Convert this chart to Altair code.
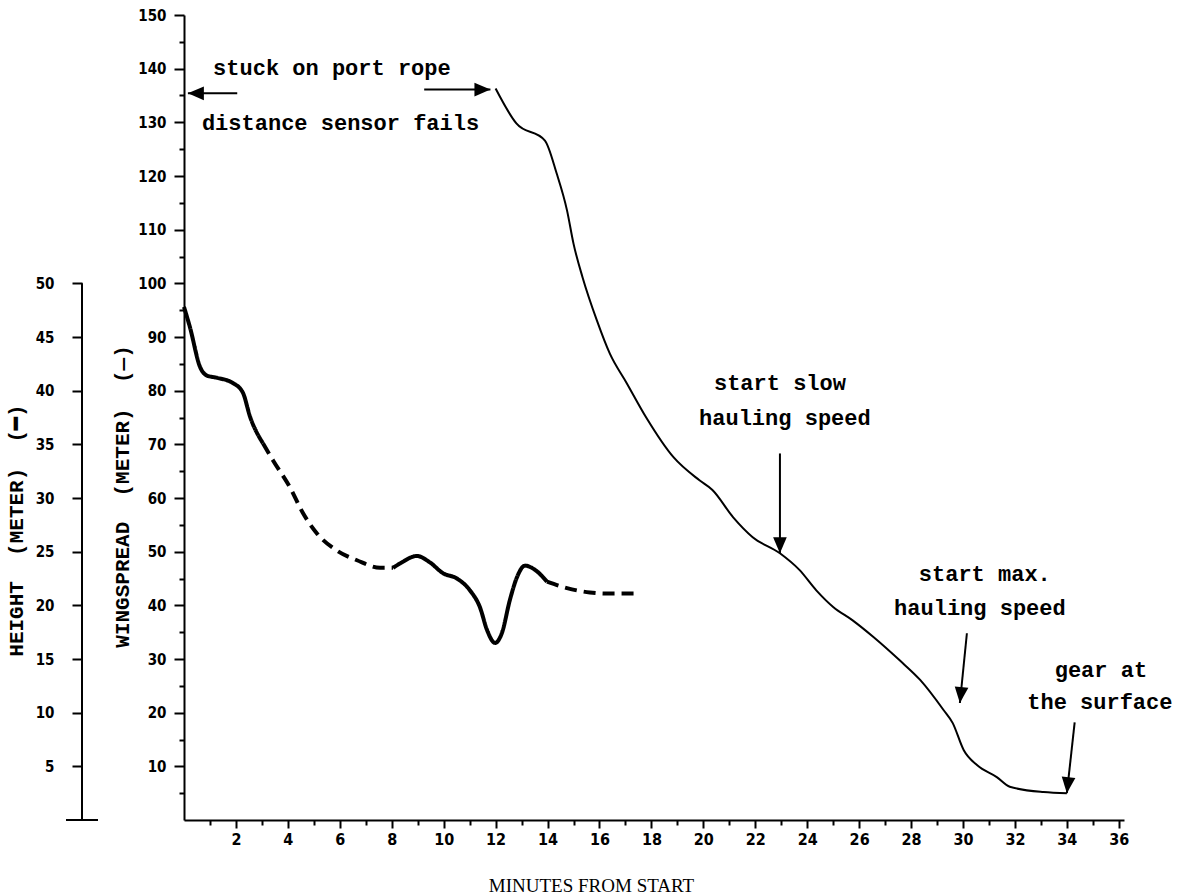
import altair as alt
import pandas as pd

# ---------------- data ----------------
# wingspread (thin line), minutes from start
wing_minutes = [12.0, 12.8, 13.9, 14.35, 14.75, 15.0, 15.35, 15.9, 16.4, 17.05, 17.8,
                18.85, 19.85, 20.35, 21.15, 21.9, 22.95, 23.7, 24.35, 25.0, 25.75,
                26.55, 27.55, 28.35, 29.25, 29.6, 30.03, 30.55, 31.3, 31.8, 33.1, 34.0]
wing_values = [136.3, 129.8, 126.6, 120.5, 113.6, 107.4, 101.1, 93.1, 86.9, 81.4, 75.0,
               67.6, 63.3, 61.5, 56.4, 52.7, 49.7, 46.6, 42.8, 39.7, 37.2,
               34.1, 29.8, 26.1, 20.5, 18.1, 13.0, 10.2, 8.0, 6.2, 5.2, 5.0]

# height (thick line), in four pieces: solid / dashed / solid / dashed
h1_minutes = [0.0, 0.23, 0.62, 0.89, 1.27, 1.89, 2.27, 2.54, 3.04]
h1_values = [47.8, 45.9, 42.2, 41.4, 41.2, 40.7, 39.8, 37.6, 35.1]
h2_minutes = [3.04, 3.43, 4.08, 4.58, 5.12, 5.89, 6.66, 7.55, 8.05]
h2_values = [35.1, 33.5, 31.0, 28.6, 26.7, 25.1, 24.2, 23.5, 23.5]
h3_minutes = [8.05, 8.32, 8.97, 9.47, 9.97, 10.51, 11.01, 11.4, 11.67, 11.98,
              12.24, 12.55, 12.82, 13.13, 13.52, 13.98]
h3_values = [23.5, 23.9, 24.6, 24.0, 23.0, 22.5, 21.4, 19.8, 17.7, 16.5,
             17.4, 20.5, 22.6, 23.7, 23.3, 22.2]
h4_minutes = [13.98, 14.75, 15.63, 16.29, 17.48]
h4_values = [22.2, 21.6, 21.2, 21.1, 21.1]

# axis ticks
x_major = list(range(2, 37, 2))
x_minor = list(range(1, 37, 2))
wing_major = list(range(10, 151, 10))
wing_minor = list(range(5, 150, 10))
height_ticks = list(range(5, 51, 5))

# annotations (left-aligned and centred)
left_text = ["stuck on port rope", "distance sensor fails"]
left_x = [1.12, 0.69]
left_y = [140.2, 129.8]
center_text = ["start slow", "hauling speed", "start max.", "hauling speed",
               "gear at", "the surface"]
center_x = [22.95, 23.14, 30.84, 30.65, 35.31, 35.27]
center_y = [81.4, 75.0, 45.8, 39.5, 27.9, 22.0]

arrow_x0 = [2.05, 9.25, 22.95, 30.15, 34.3]
arrow_y0 = [135.4, 136.1, 68.3, 34.8, 18.2]
arrow_x1 = [0.15, 11.8, 22.95, 29.88, 34.0]
arrow_y1 = [135.4, 136.1, 49.7, 21.8, 5.0]
arrow_angle = [270, 90, 180, 186, 186]

# ---------------- chart ----------------
W, H = 940, 805
MONO = "Liberation Mono"
NUM = "DejaVu Sans Condensed, DejaVu Sans"
SP = "\u00a0\u00a0"  # SVG collapses plain spaces

xs = alt.Scale(domain=[0, 36.2], nice=False, zero=False)
yw = alt.Scale(domain=[0, 150], nice=False)
yh = alt.Scale(domain=[0, 75], nice=False)

wing_df = pd.DataFrame({"minute": wing_minutes, "wingspread": wing_values})

h_rows = []
for seg, (mins, vals, style) in enumerate([(h1_minutes, h1_values, "solid"),
                                           (h2_minutes, h2_values, "dashed"),
                                           (h3_minutes, h3_values, "solid"),
                                           (h4_minutes, h4_values, "dashed")]):
    for m, v in zip(mins, vals):
        h_rows.append({"minute": m, "height": v, "seg": seg, "style": style})
h_df = pd.DataFrame(h_rows)

left_df = pd.DataFrame({"text": left_text, "x": left_x, "y": left_y})
center_df = pd.DataFrame({"text": center_text, "x": center_x, "y": center_y})
arrows_df = pd.DataFrame({"x0": arrow_x0, "y0": arrow_y0, "x1": arrow_x1,
                          "y1": arrow_y1, "ang": arrow_angle})
hax_df = pd.DataFrame({"y0": [0], "y1": [50]})

wing_line = alt.Chart(wing_df).mark_line(
    color="black", strokeWidth=2, interpolate="monotone"
).encode(
    x=alt.X("minute:Q", scale=xs, axis=alt.Axis(
        orient="bottom", values=x_major, tickSize=8, labelPadding=3, labelFlush=False,
        labelFont=NUM, labelFontSize=16, labelFontWeight="bold",
        title="MINUTES FROM START", titleFont="Liberation Serif", titleFontSize=19,
        titleFontWeight="normal", titleX=407, titleY=71, titleBaseline="alphabetic",
        titleAnchor="middle", titleAlign="center")),
    y=alt.Y("wingspread:Q", scale=yw, axis=alt.Axis(
        orient="left", values=wing_major, tickSize=10, labelPadding=8, labelFlush=False,
        labelFont=NUM, labelFontSize=15, labelFontWeight="bold",
        title="WINGSPREAD" + SP + "(METER)" + SP + "(\u2014)", titleFont=MONO,
        titleFontSize=21, titleFontWeight="bold", titleAngle=270, titleX=-62, titleY=481,
        titleAlign="center", titleBaseline="middle")),
)

minor_axes = alt.Chart(wing_df).mark_point(opacity=0).encode(
    x=alt.X("minute:Q", scale=xs, axis=alt.Axis(
        orient="bottom", values=x_minor, tickSize=5, labels=False, domain=False, title=None)),
    y=alt.Y("wingspread:Q", scale=yw, axis=alt.Axis(
        orient="left", values=wing_minor, tickSize=5, labels=False, domain=False, title=None)),
)

height_line = alt.Chart(h_df).mark_line(
    color="black", strokeWidth=4, interpolate="monotone"
).encode(
    x=alt.X("minute:Q", scale=xs, axis=None),
    y=alt.Y("height:Q", scale=yh, axis=alt.Axis(
        orient="left", offset=102, values=height_ticks, domain=False, tickSize=10,
        labelPadding=18, labelFlush=False, labelFont=NUM, labelFontSize=15,
        labelFontWeight="bold",
        title="HEIGHT" + SP + "(METER)" + SP + "(\u2501)", titleFont=MONO, titleFontSize=21,
        titleFontWeight="bold", titleAngle=270, titleX=-66, titleY=515,
        titleAlign="center", titleBaseline="middle")),
    strokeDash=alt.StrokeDash("style:N", scale=alt.Scale(
        domain=["solid", "dashed"], range=[[1, 0], [12, 7]]), legend=None),
    detail="seg:N",
)

height_axis_line = alt.Chart(hax_df).mark_rule(color="black", strokeWidth=2).encode(
    x=alt.value(-102),
    y=alt.Y("y0:Q", scale=yh, axis=None),
    y2="y1:Q",
)
height_axis_foot = alt.Chart(hax_df).mark_rule(color="black", strokeWidth=2).encode(
    x=alt.value(-118), x2=alt.value(-86),
    y=alt.Y("y0:Q", scale=yh, axis=None),
)

notes_left = alt.Chart(left_df).mark_text(
    font=MONO, fontSize=22, fontWeight="bold", color="black", baseline="middle", align="left"
).encode(
    x=alt.X("x:Q", scale=xs, axis=None),
    y=alt.Y("y:Q", scale=yw, axis=None),
    text="text:N",
)
notes_center = alt.Chart(center_df).mark_text(
    font=MONO, fontSize=22, fontWeight="bold", color="black", baseline="middle", align="center"
).encode(
    x=alt.X("x:Q", scale=xs, axis=None),
    y=alt.Y("y:Q", scale=yw, axis=None),
    text="text:N",
)

arrow_lines = alt.Chart(arrows_df).mark_rule(color="black", strokeWidth=2).encode(
    x=alt.X("x0:Q", scale=xs, axis=None),
    y=alt.Y("y0:Q", scale=yw, axis=None),
    x2="x1:Q", y2="y1:Q",
)
arrow_heads = alt.Chart(arrows_df).mark_point(
    shape="M0,0L-0.6,1.4L0.6,1.4Z", filled=True, color="black", opacity=1, size=520,
    strokeWidth=0
).encode(
    x=alt.X("x1:Q", scale=xs, axis=None),
    y=alt.Y("y1:Q", scale=yw, axis=None),
    angle=alt.Angle("ang:Q", scale=None),
)

chart = alt.layer(
    wing_line, minor_axes, height_line, height_axis_line, height_axis_foot,
    notes_left, notes_center, arrow_lines, arrow_heads
).resolve_scale(
    y="independent"
).resolve_axis(
    x="independent", y="independent"
).properties(
    width=W, height=H,
    autosize=alt.AutoSizeParams(type="none"),
    padding={"left": 184, "top": 15, "right": 53, "bottom": 75},
    background="white",
).configure_view(
    stroke=None
).configure_axis(
    grid=False, domainColor="black", domainWidth=2, tickColor="black", tickWidth=2,
    labelColor="black", titleColor="black",
)

chart.save("out.html", embed_options={"renderer": "svg", "actions": False})
